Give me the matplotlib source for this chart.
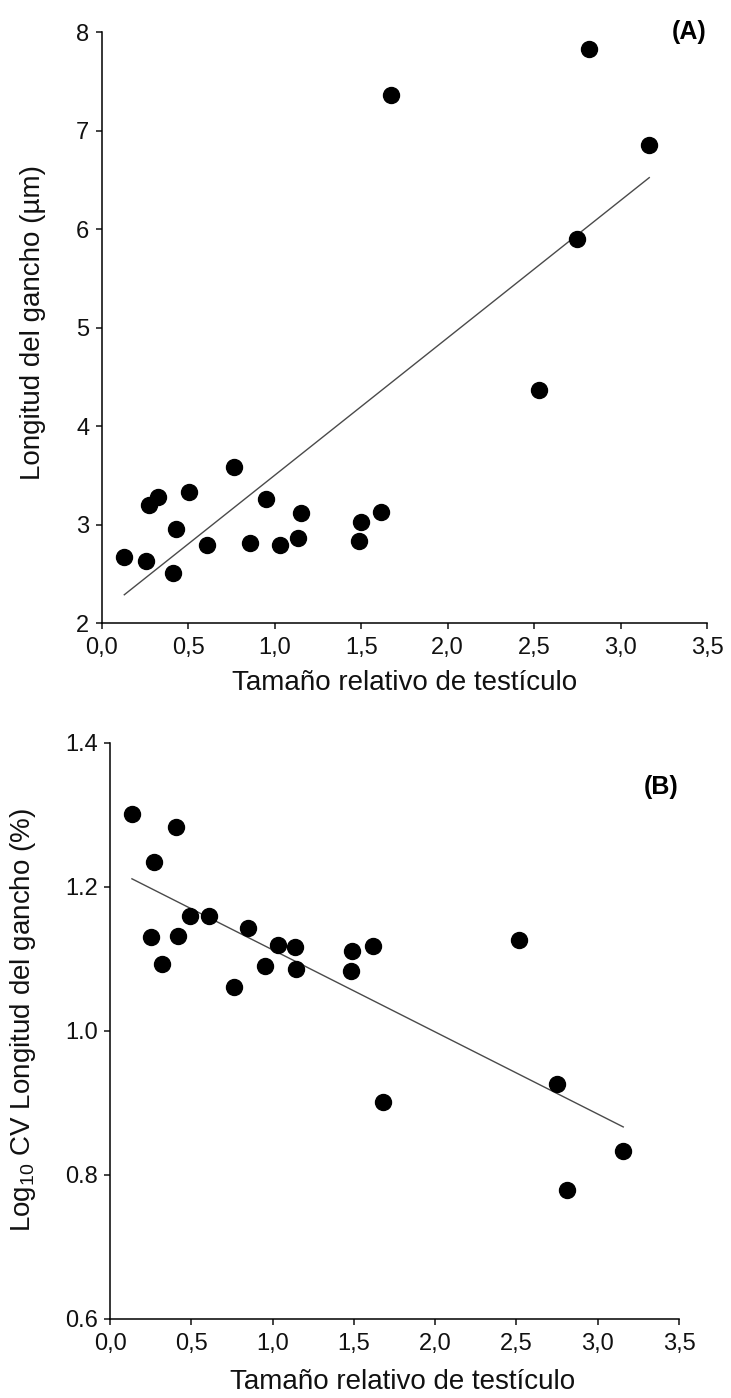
import numpy as np
import matplotlib.pyplot as plt

# Panel A: relative testis size vs. hook length (µm)
testis_a = [0.129, 0.254, 0.274, 0.322, 0.409, 0.428, 0.501, 0.605, 0.765, 0.856, 0.949,
            1.030, 1.136, 1.149, 1.486, 1.498, 1.614, 1.670, 2.529, 2.749, 2.818, 3.166]
hook_len = [2.667, 2.630, 3.195, 3.280, 2.510, 2.950, 3.333, 2.790, 3.584, 2.810, 3.256,
            2.790, 2.866, 3.114, 2.833, 3.030, 3.130, 7.357, 4.370, 5.898, 7.830, 6.853]

# Panel B: relative testis size vs. log10 CV of hook length (%)
testis_b = [0.135, 0.271, 0.406, 0.250, 0.322, 0.420, 0.492, 0.607, 0.765, 0.851, 0.953,
            1.035, 1.136, 1.144, 1.480, 1.490, 1.620, 1.677, 2.515, 2.751, 2.813, 3.157]
log_cv = [1.302, 1.235, 1.283, 1.130, 1.093, 1.132, 1.160, 1.160, 1.061, 1.143, 1.090,
          1.120, 1.116, 1.086, 1.083, 1.111, 1.118, 0.902, 1.127, 0.927, 0.779, 0.833]

x_ticks = [0.0, 0.5, 1.0, 1.5, 2.0, 2.5, 3.0, 3.5]
x_tick_labels = ["0,0", "0,5", "1,0", "1,5", "2,0", "2,5", "3,0", "3,5"]
ya_ticks = [2, 3, 4, 5, 6, 7, 8]
ya_tick_labels = ["2", "3", "4", "5", "6", "7", "8"]
yb_ticks = [0.6, 0.8, 1.0, 1.2, 1.4]
yb_tick_labels = ["0.6", "0.8", "1.0", "1.2", "1.4"]

x_label = "Tamaño relativo de testículo"
ya_label = "Longitud del gancho (µm)"
yb_label = r"Log$_{10}$ CV Longitud del gancho (%)"

plt.rcParams['font.family'] = ['Liberation Sans', 'DejaVu Sans']
plt.rcParams['mathtext.fontset'] = 'custom'
plt.rcParams['mathtext.rm'] = 'Liberation Sans'
plt.rcParams['mathtext.it'] = 'Liberation Sans'

fig = plt.figure(figsize=(7.31, 13.98), dpi=100)
ax_a = fig.add_axes([0.13953, 0.55436, 0.82763, 0.42275])
ax_b = fig.add_axes([0.15048, 0.05651, 0.77839, 0.41202])


def style(ax, yticks, ylabels, ylim):
    for side in ("top", "right"):
        ax.spines[side].set_visible(False)
    for side in ("left", "bottom"):
        ax.spines[side].set_linewidth(1.1)
    ax.set_xlim(0, 3.5)
    ax.set_ylim(*ylim)
    ax.set_xticks(x_ticks)
    ax.set_xticklabels(x_tick_labels)
    ax.set_yticks(yticks)
    ax.set_yticklabels(ylabels)
    ax.tick_params(direction="out", length=4, width=1.1, labelsize=17,
                   colors="#111111")
    ax.tick_params(axis="x", pad=6)
    ax.tick_params(axis="y", pad=5)


def scatter_fit(ax, x, y):
    x = np.asarray(x)
    y = np.asarray(y)
    slope, intercept = np.polyfit(x, y, 1)
    xs = np.array([x.min(), x.max()])
    ax.plot(xs, intercept + slope * xs, color="#4a4a4a", lw=1.0, zorder=2)
    ax.plot(x, y, "o", color="black", markersize=11.5, zorder=3, clip_on=False)


scatter_fit(ax_a, testis_a, hook_len)
style(ax_a, ya_ticks, ya_tick_labels, (2, 8))
ax_a.set_xlabel(x_label, fontsize=20, color="#111111")
ax_a.set_ylabel(ya_label, fontsize=20, color="#111111")
ax_a.xaxis.set_label_coords(0.5, -0.08)
ax_a.yaxis.set_label_coords(-0.093, 0.509)
ax_a.text(0.970, 1.0, "(A)", transform=ax_a.transAxes, fontsize=18,
          fontweight="bold", ha="center", va="center")

scatter_fit(ax_b, testis_b, log_cv)
style(ax_b, yb_ticks, yb_tick_labels, (0.6, 1.4))
ax_b.set_xlabel(x_label, fontsize=20, color="#111111")
ax_b.set_ylabel(yb_label, fontsize=20, color="#111111")
ax_b.xaxis.set_label_coords(0.515, -0.086)
ax_b.yaxis.set_label_coords(-0.1265, 0.52)
ax_b.text(0.968, 0.924, "(B)", transform=ax_b.transAxes, fontsize=18,
          fontweight="bold", ha="center", va="center")

fig.savefig("out.png", dpi=100)
